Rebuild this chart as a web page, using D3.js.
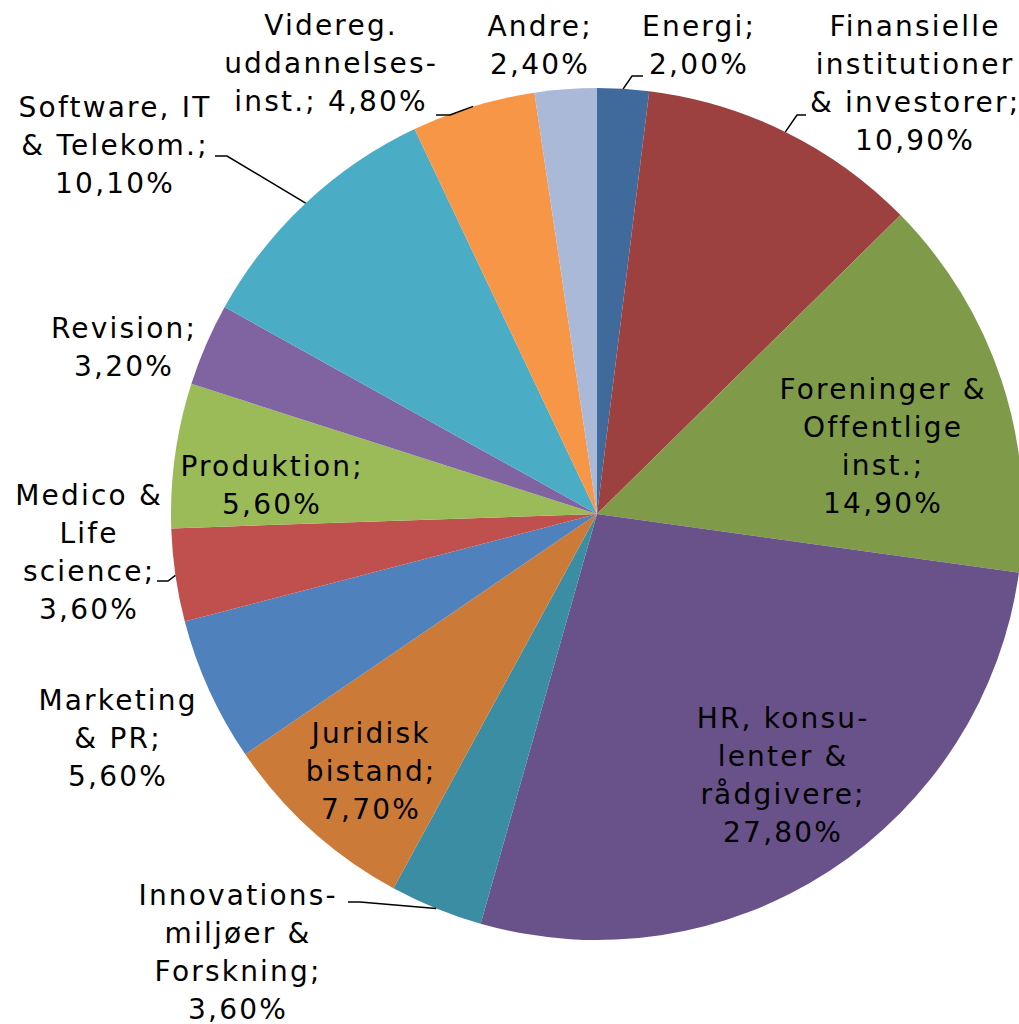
<!DOCTYPE html>
<html>
<head>
<meta charset="utf-8">
<script src="https://cdn.jsdelivr.net/npm/d3@7"></script>
<style>
  body { margin: 0; background: #fff; }
  svg text { font-family: "DejaVu Sans", Verdana, sans-serif; font-size: 28px; letter-spacing: 2.2px; fill: #000; }
</style>
</head>
<body>
<div id="chart"></div>
<script>
// Data (clockwise from 12 o'clock)
const categories = [
    'Energi', 'Finansielle institutioner & investorer', 'Foreninger & Offentlige inst.',
    'HR, konsulenter & rådgivere', 'Innovationsmiljøer & Forskning', 'Juridisk bistand',
    'Marketing & PR', 'Medico & Life science', 'Produktion', 'Revision',
    'Software, IT & Telekom.', 'Videreg. uddannelsesinst.', 'Andre'
];
const shares = [2.0, 10.9, 14.9, 27.8, 3.6, 7.7, 5.6, 3.6, 5.6, 3.2, 10.1, 4.8, 2.4];
const labelLines = [
    ['Energi;', '2,00%'],
    ['Finansielle', 'institutioner', '& investorer;', '10,90%'],
    ['Foreninger &', 'Offentlige', 'inst.;', '14,90%'],
    ['HR, konsu-', 'lenter &', 'rådgivere;', '27,80%'],
    ['Innovations-', 'miljøer &', 'Forskning;', '3,60%'],
    ['Juridisk', 'bistand;', '7,70%'],
    ['Marketing', '& PR;', '5,60%'],
    ['Medico &', 'Life', 'science;', '3,60%'],
    ['Produktion;', '5,60%'],
    ['Revision;', '3,20%'],
    ['Software, IT', '& Telekom.;', '10,10%'],
    ['Videreg.', 'uddannelses-', 'inst.; 4,80%'],
    ['Andre;', '2,40%']
];
const colors = [
    '#416a9c', '#9d4140', '#7f9b4a', '#69518a', '#3b8da3', '#cc7a37',
    '#4f81bd', '#c0504d', '#9bbb59', '#8064a2', '#4bacc6', '#f79646', '#aab9d7'
];

// Label layout: text centre x, first baseline y, optional leader elbow/end
const labelLayout = [
    { x: 698, y: 36, leader: [[632, 76], [643, 76]] },
    { x: 914, y: 36, leader: [[797, 115], [806, 115]] },
    { x: 882, y: 399 },
    { x: 782, y: 728 },
    { x: 237, y: 905, leader: [[360, 902], [348, 902]] },
    { x: 370, y: 743 },
    { x: 117, y: 710 },
    { x: 88, y: 505, leader: [[168, 581], [157, 581]] },
    { x: 271, y: 476 },
    { x: 123, y: 338 },
    { x: 114, y: 117, leader: [[227, 156], [215, 156]] },
    { x: 330, y: 35, leader: [[450, 115], [436, 115]] },
    { x: 539, y: 36 }
];

const width = 1019, height = 1024;
const cx = 597, cy = 514, radius = 426;
const lineHeight = 38;

const svg = d3.select('#chart')
    .append('svg')
    .attr('width', width)
    .attr('height', height);

const g = svg.append('g')
    .attr('transform', `translate(${cx},${cy})`);

const data = categories.map((c, i) => ({ name: c, value: shares[i], lines: labelLines[i], color: colors[i], pos: labelLayout[i] }));

const pie = d3.pie().sort(null).value(d => d.value);
const arc = d3.arc().innerRadius(0).outerRadius(radius);
const arcs = pie(data);

g.selectAll('.slice')
    .data(arcs)
    .join('path')
    .attr('class', 'slice')
    .attr('d', arc)
    .attr('fill', d => d.data.color);

// Leader lines from slice edge (mid-angle) to the label
const line = d3.line();
svg.selectAll('.leader')
    .data(arcs.filter(d => d.data.pos.leader))
    .join('path')
    .attr('class', 'leader')
    .attr('fill', 'none')
    .attr('stroke', '#000')
    .attr('stroke-width', 1.5)
    .attr('d', d => {
        const mid = (d.startAngle + d.endAngle) / 2;
        const p0 = [cx + radius * Math.sin(mid), cy - radius * Math.cos(mid)];
        return line([p0, ...d.data.pos.leader]);
    });

// Labels (shift by half letter-spacing so text stays centred)
const labels = svg.selectAll('.label')
    .data(arcs)
    .join('text')
    .attr('class', 'label')
    .attr('text-anchor', 'middle');

labels.selectAll('tspan')
    .data(d => d.data.lines.map((t, i) => ({ t, i, pos: d.data.pos })))
    .join('tspan')
    .attr('x', d => d.pos.x + 1.1)
    .attr('y', d => d.pos.y + d.i * lineHeight)
    .text(d => d.t);
</script>
</body>
</html>
